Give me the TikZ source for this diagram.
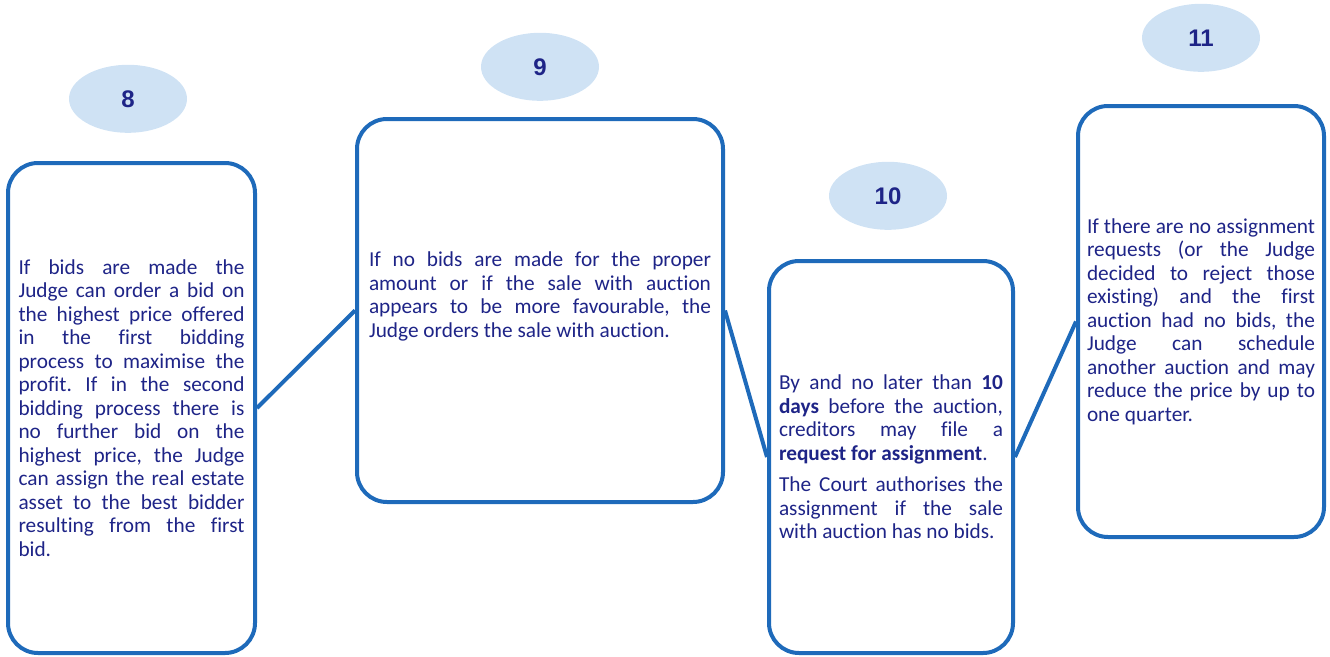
\documentclass[tikz,border=0pt]{standalone}
\usepackage{fontspec}
\setmainfont{Carlito}[Ligatures=NoCommon]
\newfontfamily\numfont{Liberation Sans}
\usetikzlibrary{
    positioning,      % For placing the number bubbles above their boxes
    shapes.geometric  % For the ellipse shape of the bubbles
}
\definecolor{frameblue}{RGB}{30,106,186}
\definecolor{bubbleblue}{RGB}{207,226,244}
\definecolor{textnavy}{RGB}{30,36,135}
\hyphenpenalty=10000
\exhyphenpenalty=10000
\frenchspacing

\begin{document}
\begin{tikzpicture}[
    x=1pt, y=-1pt,
    % Style for the rounded step boxes
    step_box/.style={
        draw=frameblue,
        line width=4pt,
        rounded corners=30pt,
        text=textnavy,
        align=justify,
        inner sep=0pt,
        font=\fontsize{21.3}{23.5}\selectfont
    },
    % Style for the numbered bubbles
    number_bubble/.style={
        ellipse,
        fill=bubbleblue,
        text=textnavy,
        minimum width=118pt,
        minimum height=68pt,
        font=\numfont\bfseries\fontsize{24}{26}\selectfont
    },
    % Style for the lines between boxes
    link_style/.style={
        draw=frameblue,
        line width=4pt
    }
]
    \useasboundingbox (0,0) rectangle (1330,656);

    % 1. The four step boxes (lines broken as in the slide).
    \node[step_box, minimum width=247pt, minimum height=490pt, text width=226pt] (step8) at (131.5,408)
        {If bids are made the\linebreak Judge can order a bid on\linebreak the highest price offered\linebreak
        in the first bidding\linebreak process to maximise the\linebreak profit. If in the second\linebreak
        bidding process there is\linebreak no further bid on the\linebreak highest price, the Judge\linebreak
        can assign the real estate\linebreak asset to the best bidder\linebreak resulting from the first\linebreak bid.};
    \node[step_box, minimum width=366pt, minimum height=383pt, text width=342pt] (step9) at (540,310.5)
        {If no bids are made for the proper\linebreak amount or if the sale with auction\linebreak
        appears to be more favourable, the\linebreak Judge orders the sale with auction.\par\vspace{28pt}};
    \node[step_box, minimum width=244pt, minimum height=392pt, text width=224pt] (step10) at (891,457)
        {By and no later than \textbf{10}\linebreak \textbf{days} before the auction,\linebreak
        creditors may file a\linebreak \textbf{request for assignment}.\par\vspace{8pt}
        The Court authorises the\linebreak assignment if the sale\linebreak with auction has no bids.};
    \node[step_box, minimum width=246pt, minimum height=431pt, text width=228pt] (step11) at (1201,321.5)
        {If there are no assignment\linebreak requests (or the Judge\linebreak decided to reject those\linebreak
        existing) and the first\linebreak auction had no bids, the\linebreak Judge can schedule\linebreak
        another auction and may\linebreak reduce the price by up to\linebreak one quarter.};

    % 2. The number bubbles above the boxes.
    \node[number_bubble, above=28pt of step8, xshift=-3.5pt] (num8) {8};
    \node[number_bubble, above=16pt of step9] (num9) {9};
    \node[number_bubble, above=29pt of step10, xshift=-3pt] (num10) {10};
    \node[number_bubble, above=32pt of step11] (num11) {11};

    % 3. The lines joining the boxes.
    \draw[link_style] (step8.east) -- (step9.west);
    \draw[link_style] (step9.east) -- (step10.west);
    \draw[link_style] (step10.east) -- (step11.west);

\end{tikzpicture}
\end{document}
